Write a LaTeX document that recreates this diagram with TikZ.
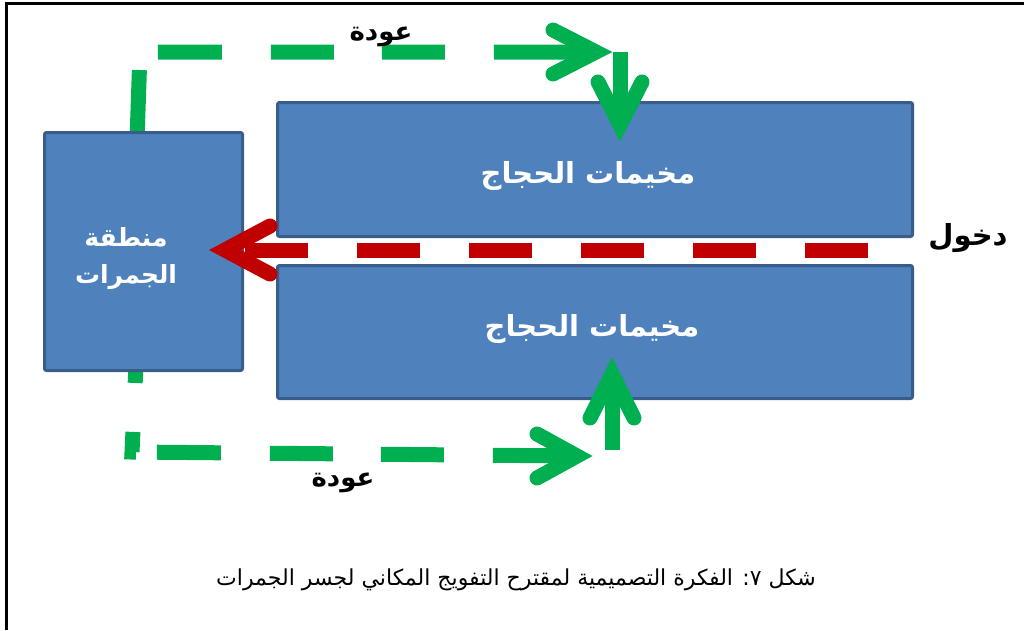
\documentclass[tikz,border=0pt]{standalone}
\usepackage{fontspec}
\newfontfamily\arabicfont[Script=Arabic]{DejaVu Sans}
\TeXXeTstate=1
\definecolor{boxfill}{HTML}{4F81BD}
\definecolor{boxline}{HTML}{385D8A}
\definecolor{ggreen}{HTML}{00B050}
\definecolor{rred}{HTML}{C00000}
\tikzset{
  zone/.style={draw=boxline, fill=boxfill, line width=3pt, rounded corners=2pt, inner sep=0pt},
  inlbl/.style={font=\arabicfont\bfseries\fontsize{29}{36}\selectfont, text=white, align=center, inner sep=0pt},
  jamlbl/.style={font=\arabicfont\bfseries\fontsize{25}{37}\selectfont, text=white, align=center, inner sep=0pt},
  outlbl/.style={font=\arabicfont\bfseries\fontsize{26}{30}\selectfont, text=black, inner sep=0pt},
  route/.style={draw=ggreen, line width=15pt},
  gchev/.style={draw=ggreen, line width=15pt, line cap=round, line join=miter},
  rline/.style={draw=rred, line width=15pt},
  rchev/.style={draw=rred, line width=15pt, line cap=round, line join=miter},
  frameline/.style={draw=black, line width=3pt}
}
\begin{document}
\begin{tikzpicture}[x=1pt,y=-1pt]
\useasboundingbox (0,0) rectangle (1024,630);
% frame (top and left edges visible)
\coordinate (fTL) at (6.5,3);
\coordinate (fTR) at (1024,3);
\coordinate (fBL) at (6.5,630);
\draw[frameline] (fTR) -- (fTL) -- (fBL);
% route coordinates
\coordinate (tS) at (137,140);
\coordinate (tC) at (140,52);
\coordinate (tV) at (596,52);
\coordinate (dS) at (620,52);
\coordinate (dV) at (620,125);
\coordinate (bS) at (136,365);
\coordinate (bC) at (132,452);
\coordinate (bV) at (577,456);
\coordinate (uS) at (612,450);
\coordinate (uV) at (612,374);
% green return routes (behind boxes)
\draw[route, dash pattern=on 70pt off 36pt on 64pt off 49pt on 63pt off 48pt on 63pt off 49pt on 400pt] (tS) -- (tC) -- (tV);
\draw[route, dash pattern=on 18pt off 49pt on 24pt off 21pt on 64pt off 49pt on 63pt off 48pt on 63pt off 49pt on 400pt] (bS) -- (bC) -- (bV);
% boxes
\node[zone, minimum width=198pt, minimum height=238pt] (jam) at (143.5,251.5) {};
\node[zone, minimum width=635pt, minimum height=134pt] (campT) at (595,169.5) {};
\node[zone, minimum width=635pt, minimum height=133pt] (campB) at (595,332) {};
% box labels
\node[jamlbl] (jamL) at (126,259) {\beginR منطقة\endR\\\beginR الجمرات\endR};
\node[inlbl] (campTL) at (588,176) {\beginR مخيمات الحجاج\endR};
\node[inlbl] (campBL) at (592,329) {\beginR مخيمات الحجاج\endR};
% green arrowheads and shafts
\draw[gchev] (553,30) -- (tV) -- (553,74);
\draw[route] (dS) -- (dV);
\draw[gchev] (598,82) -- (dV) -- (642,82);
\draw[gchev] (537,434) -- (bV) -- (537,478);
\draw[route] (uS) -- (uV);
\draw[gchev] (590,418) -- (uV) -- (634,418);
% red entry route
\coordinate (rS) at (868,250);
\coordinate (rV) at (225,250);
\draw[rline, dash pattern=on 63pt off 49pt] (rS) -- (rV);
\draw[rchev] (270,226) -- (rV) -- (270,274);
% outside labels
\node[outlbl] (retT) at (381,37) {\beginR عودة\endR};
\node[outlbl] (retB) at (343,483) {\beginR عودة\endR};
\node[outlbl, font=\arabicfont\bfseries\fontsize{29}{33}\selectfont] (entry) at (968,238) {\beginR دخول\endR};
% caption
\node[font=\arabicfont\fontsize{22}{25}\selectfont, inner sep=0pt] (cap) at (516,580) {\beginR شكل ٧: الفكرة التصميمية لمقترح التفويج المكاني لجسر الجمرات\endR};
\end{tikzpicture}
\end{document}
